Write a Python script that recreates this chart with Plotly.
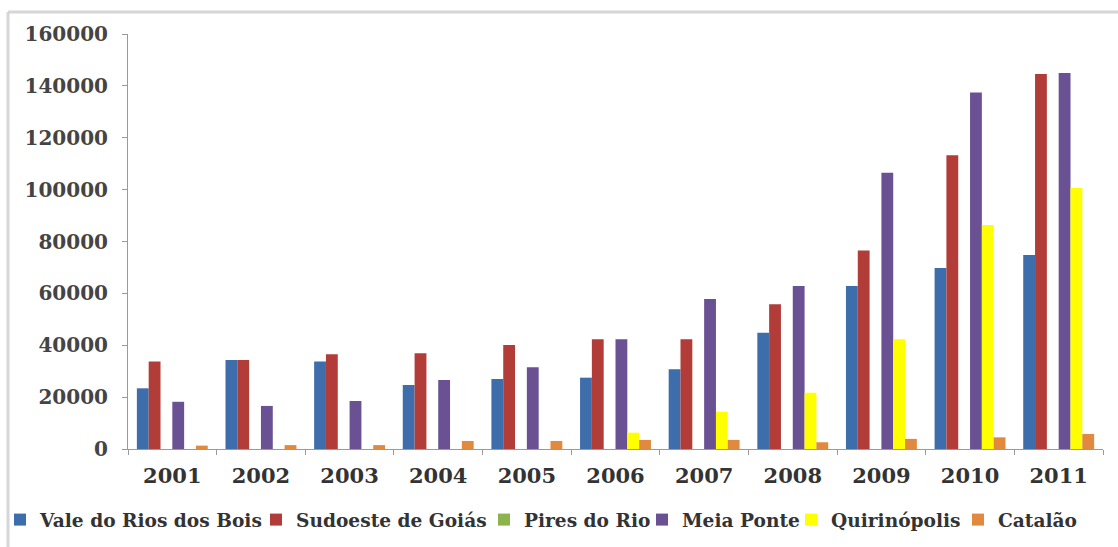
import plotly.graph_objects as go

years = ["2001", "2002", "2003", "2004", "2005", "2006", "2007", "2008", "2009", "2010", "2011"]

vale_rios_bois = [23400, 34300, 33700, 24700, 27000, 27500, 30700, 44800, 62800, 69800, 74800]
sudoeste_goias = [33700, 34300, 36500, 36900, 40100, 42300, 42300, 55800, 76500, 113300, 144600]
pires_do_rio = [0, 0, 0, 0, 0, 0, 0, 0, 0, 0, 0]
meia_ponte = [18200, 16600, 18500, 26600, 31500, 42300, 57800, 62800, 106500, 137400, 145000]
quirinopolis = [0, 0, 0, 0, 0, 6300, 14400, 21700, 42300, 86400, 100600]
catalao = [1300, 1500, 1500, 3100, 3100, 3500, 3500, 2600, 3900, 4500, 5800]

y_ticks = [0, 20000, 40000, 60000, 80000, 100000, 120000, 140000, 160000]

series_names = ["Vale do Rios dos Bois", "Sudoeste de Goiás", "Pires do Rio",
                "Meia Ponte", "Quirinópolis", "Catalão"]
series_values = [vale_rios_bois, sudoeste_goias, pires_do_rio, meia_ponte, quirinopolis, catalao]
series_colors = ["#3D6DAA", "#B23C38", "#8DB24E", "#6A5193", "#FFFF00", "#E0893F"]
# left edge (px) of each legend entry's text, as in the original picture
legend_text_x = [33, 296, 524, 682, 831, 998]

L, R, T, B = 128, 15, 34, 98
W, H = 1118, 547
pw, ph = W - L - R, H - T - B

fig = go.Figure()
layout_legends = {}
for i, (name, vals, col) in enumerate(zip(series_names, series_values, series_colors)):
    key = "legend" if i == 0 else f"legend{i + 1}"
    fig.add_trace(go.Bar(x=years, y=vals, name=name, legend=key,
                         marker=dict(color=col, line=dict(width=0))))
    layout_legends[key] = dict(
        orientation="h", xref="container", yref="container",
        x=(legend_text_x[i] - 40) / W, xanchor="left", y=1 - 520 / H, yanchor="middle",
        font=dict(size=18.6, family="DejaVu Serif", weight="bold", color="#333"),
        itemwidth=30, borderwidth=0, bgcolor="rgba(0,0,0,0)",
    )

fig.update_layout(
    width=W, height=H,
    margin=dict(l=L, r=R, t=T, b=B, autoexpand=False),
    barmode="group", bargap=0.2, bargroupgap=0,
    plot_bgcolor="white", paper_bgcolor="white",
    font=dict(family="DejaVu Serif", color="#3a3a3a"),
    showlegend=True,
    xaxis=dict(type="category", showline=True, linecolor="#9a9a9a", linewidth=1, ticks="outside",
               tickson="boundaries", ticklen=5, tickcolor="#9a9a9a", ticklabelstandoff=8,
               automargin=False,
               tickfont=dict(size=21, family="DejaVu Serif", weight="bold", color="#333")),
    yaxis=dict(range=[0, 160000], tickvals=y_ticks, ticktext=[str(v) for v in y_ticks],
               showline=True, linecolor="#9a9a9a", linewidth=1, ticks="outside", ticklen=5, tickcolor="#9a9a9a",
               showgrid=False, zeroline=False, ticklabelstandoff=10, automargin=False,
               tickfont=dict(size=20, family="DejaVu Serif", weight="bold", color="#444")),
    **layout_legends,
)

# light gray frame (top and left edges of the original picture)
fx = (8 - L) / pw
fy = (H - B - 12) / ph
fig.add_shape(type="line", xref="paper", yref="paper", x0=fx, x1=(W - L) / pw, y0=fy, y1=fy,
              line=dict(color="#d6d6d6", width=3))
fig.add_shape(type="line", xref="paper", yref="paper", x0=fx, x1=fx, y0=fy, y1=-B / ph,
              line=dict(color="#d6d6d6", width=3))

fig.write_html("out.html")
